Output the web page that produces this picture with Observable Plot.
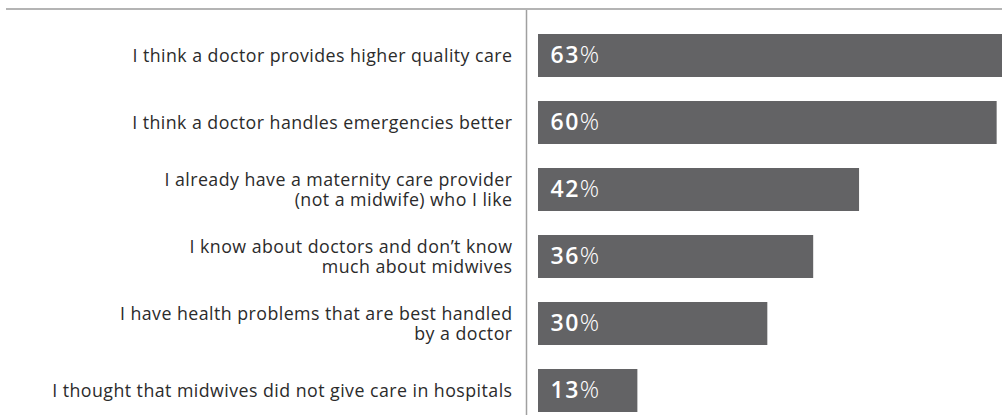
<!DOCTYPE html>
<html>
<head>
<meta charset="utf-8">
<script src="https://cdn.jsdelivr.net/npm/d3@7"></script>
<script src="https://cdn.jsdelivr.net/npm/@observablehq/plot@0.6"></script>
<style>
  html, body { margin: 0; padding: 0; background: #fff; overflow: hidden; }
  #wrap { position: relative; width: 1002px; height: 415px; }
  #topline { position: absolute; left: 6px; right: 0; top: 8px; border-top: 2px solid #b4b4b4; }
  #chart svg { overflow: hidden; display: block; }
</style>
</head>
<body>
<div id="wrap">
  <div id="chart"></div>
  <div id="topline"></div>
</div>
<script>
const reasons = [
  "I think a doctor provides higher quality care",
  "I think a doctor handles emergencies better",
  "I already have a maternity care provider\n(not a midwife) who I like",
  "I know about doctors and don\u2019t know\nmuch about midwives",
  "I have health problems that are best handled\nby a doctor",
  "I thought that midwives did not give care in hospitals"
];
const shares = [63, 60, 42, 36, 30, 13];

const data = reasons.map((r, i) => ({reason: r, share: shares[i]}));

const chart = Plot.plot({
  width: 1002,
  height: 415,
  marginLeft: 538,
  marginRight: 0,
  marginTop: 33.3,
  marginBottom: 2.3,
  style: {fontFamily: "'Open Sans', sans-serif", background: "transparent"},
  x: {domain: [0, 60.7], axis: null},
  y: {domain: reasons, paddingInner: 0.353, paddingOuter: 0, axis: null},
  marks: [
    Plot.barX(data, {x: "share", y: "reason", fill: "#636365"}),
    Plot.axisY({
      label: null,
      tickSize: 0,
      tickPadding: 26,
      fontSize: 17.8,
      lineHeight: 1.1,
      textAnchor: "end",
      fill: "#2b2b2b"
    }),
    Plot.ruleX([0], {dx: -12, insetTop: -25, insetBottom: -3, stroke: "#a0a0a0", strokeWidth: 1.5}),
    Plot.text(data, {
      x: 0, y: "reason", text: d => `${d.share}%`,
      textAnchor: "start", dx: 12, fill: "#fff", fontSize: 23
    })
  ]
});

document.getElementById("chart").appendChild(chart);

const SVGNS = "http://www.w3.org/2000/svg";
chart.querySelectorAll("text").forEach(t => {
  const s = t.textContent;
  if (/^\d+%$/.test(s)) {
    // Bold number, light percent sign
    const num = s.slice(0, -1);
    t.textContent = "";
    const a = document.createElementNS(SVGNS, "tspan");
    a.setAttribute("font-weight", "600");
    a.setAttribute("letter-spacing", "1.5");
    a.textContent = num;
    const b = document.createElementNS(SVGNS, "tspan");
    b.setAttribute("font-weight", "300");
    b.setAttribute("font-size", "24");
    b.textContent = "%";
    t.appendChild(a);
    t.appendChild(b);
  } else {
    t.setAttribute("letter-spacing", "0.45");
  }
});
</script>
</body>
</html>
